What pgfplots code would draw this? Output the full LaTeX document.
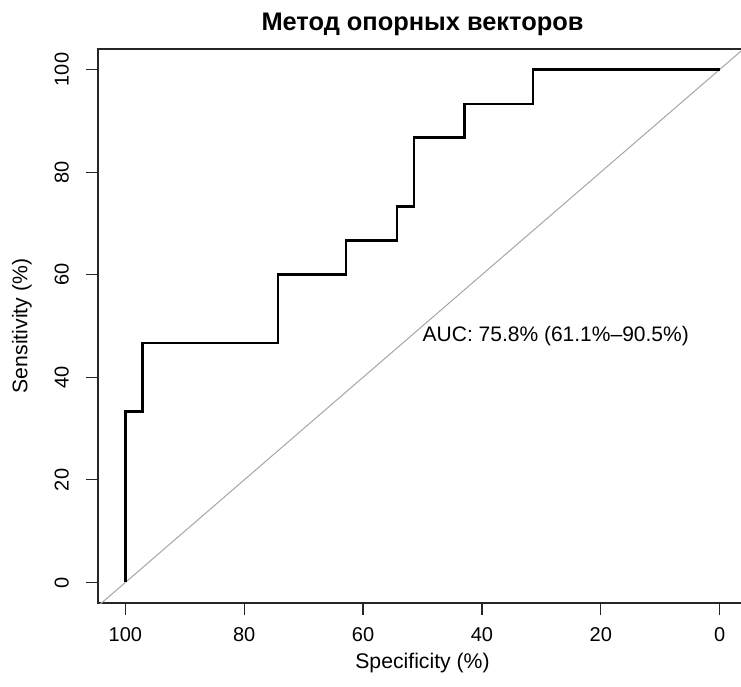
\documentclass[border=0pt]{standalone}
\usepackage{fontspec}
\setmainfont{Liberation Sans}
\usepackage{pgfplots}
\pgfplotsset{compat=1.18}
\begin{document}
\begin{tikzpicture}
\useasboundingbox (-98pt,-83pt) rectangle (643pt,603pt);
\begin{axis}[
  at={(0pt,0pt)}, anchor=south west,
  scale only axis, width=649pt, height=554pt,
  x dir=reverse,
  xmin=-4.6, xmax=104.6, ymin=-4, ymax=104,
  xtick={0,20,...,100}, ytick={0,20,...,100},
  xtick pos=bottom, ytick pos=left,
  tick align=outside, major tick length=12pt,
  every tick/.style={black!85, line width=1.2pt},
  axis line style={line width=1.2pt, black!85},
  /pgf/number format/assume math mode=true,
  ticklabel style={font=\fontsize{20}{24}\selectfont},
  yticklabel style={rotate=90, anchor=south, inner sep=0pt},
  xticklabel style={anchor=north, inner sep=0pt},
  yticklabel shift=17pt,
  xticklabel shift=12pt,
  xlabel={Specificity (\%)}, ylabel={Sensitivity (\%)},
  label style={font=\fontsize{21.2}{25}\selectfont},
  xlabel style={at={(axis description cs:0.5,-0.1083)}, anchor=center},
  ylabel style={at={(axis description cs:-0.1171,0.5)}, anchor=center},
  title={Метод опорных векторов},
  title style={font=\fontsize{25.4}{30}\bfseries, at={(axis description cs:0.5,1)}, anchor=center, yshift=19pt},
]
\addplot[color=black!35, line width=1pt] coordinates {(110,-10) (-10,110)};
\addplot[black, line width=2.6pt, line join=miter] coordinates {
(100,0) (100,33.3) (97.1,33.3) (97.1,46.7) (74.3,46.7) (74.3,60) (62.9,60) (62.9,66.7)
(54.3,66.7) (54.3,73.3) (51.4,73.3) (51.4,86.7) (42.9,86.7) (42.9,93.3) (31.4,93.3) (31.4,100) (0,100)};
\node[anchor=north west, inner sep=0pt, font=\fontsize{21}{25}\selectfont] at (axis cs:50,50) {AUC: 75.8\% (61.1\%–90.5\%)};
\end{axis}
\end{tikzpicture}
\end{document}
